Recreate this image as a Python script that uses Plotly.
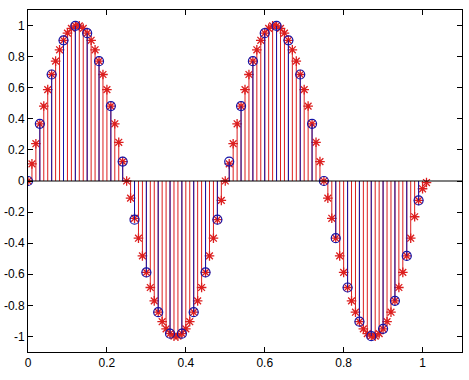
import plotly.graph_objects as go

# Red series: sampled every 0.01
red_t = [round(k * 0.01, 2) for k in range(102)]
red_pos = [0.0, 0.11, 0.24, 0.368, 0.482, 0.588, 0.685, 0.771, 0.844, 0.905, 0.951, 0.982, 0.998,
           0.998, 0.982, 0.951, 0.905, 0.844, 0.771, 0.685, 0.588, 0.482, 0.368, 0.249, 0.125]
red_v = (red_pos + [0.0] + [-v for v in red_pos[1:]] + [0.0] + red_pos[1:] + [0.0]
         + [-v for v in red_pos[1:-2]] + [-0.23, -0.125, -0.05, -0.01])
red_v = red_v[:102]

# Blue series: sampled every 0.03
blue_t = [round(k * 0.03, 2) for k in range(34)]
blue_v = [0.0, 0.368, 0.685, 0.905, 0.998, 0.951, 0.771, 0.482, 0.125, -0.249, -0.588, -0.844,
          -0.982, -0.982, -0.844, -0.588, -0.249, 0.125, 0.482, 0.771, 0.951, 0.998, 0.905,
          0.685, 0.368, 0.0, -0.368, -0.685, -0.905, -0.998, -0.951, -0.771, -0.482, -0.125]

x_ticks = [0, 0.2, 0.4, 0.6, 0.8, 1]
x_labels = ["0", "0.2", "0.4", "0.6", "0.8", "1"]
y_ticks = [-1, -0.8, -0.6, -0.4, -0.2, 0, 0.2, 0.4, 0.6, 0.8, 1]
y_labels = ["-1", "-0.8", "-0.6", "-0.4", "-0.2", "0", "0.2", "0.4", "0.6", "0.8", "1"]

RED = "#dc1e1e"
BLUE = "#1414a8"


def stems(t, v):
    xs, ys = [], []
    for a, b in zip(t, v):
        xs += [a, a, None]
        ys += [0, b, None]
    return xs, ys


fig = go.Figure()
rx, ry = stems(red_t, red_v)
fig.add_trace(go.Scatter(x=rx, y=ry, mode="lines", line=dict(color=RED, width=1),
                         hoverinfo="skip", showlegend=False))
fig.add_trace(go.Scatter(x=red_t, y=red_v, mode="markers",
                         marker=dict(symbol="asterisk-open", size=8, color=RED,
                                     line=dict(color=RED, width=1.3)),
                         showlegend=False))
bx, by = stems(blue_t, blue_v)
fig.add_trace(go.Scatter(x=bx, y=by, mode="lines", line=dict(color=BLUE, width=1),
                         hoverinfo="skip", showlegend=False))
fig.add_trace(go.Scatter(x=blue_t, y=blue_v, mode="markers",
                         marker=dict(symbol="circle-open", size=9, color=BLUE,
                                     line=dict(color=BLUE, width=1.2)),
                         showlegend=False))

fig.add_shape(type="line", xref="x", yref="y", x0=0, x1=1.1, y0=0, y1=0,
              line=dict(color="black", width=1.2))

axis_common = dict(showline=True, linecolor="black", linewidth=1, mirror="ticks",
                   ticks="inside", ticklen=5, tickcolor="black", showgrid=False,
                   zeroline=False, automargin=False,
                   tickfont=dict(family="Liberation Sans, Arial", size=12, color="black"))
fig.update_xaxes(range=[0, 1.1], tickvals=x_ticks, ticktext=x_labels, **axis_common)
fig.update_yaxes(range=[-1.1, 1.1], tickvals=y_ticks, ticktext=y_labels, **axis_common)

fig.update_layout(width=469, height=380, margin=dict(l=28, r=7, t=10, b=28),
                  plot_bgcolor="white", paper_bgcolor="white")

fig.write_html("out.html")
